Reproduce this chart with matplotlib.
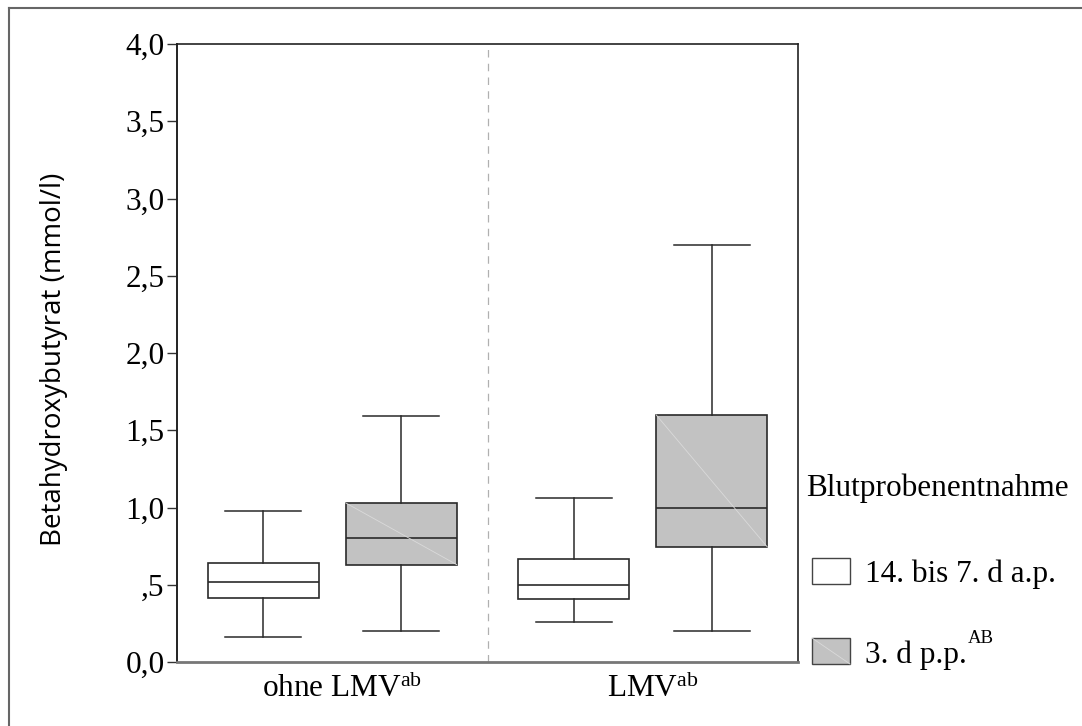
import matplotlib
matplotlib.use("Agg")
import matplotlib.pyplot as plt
from matplotlib.patches import Rectangle
from matplotlib.lines import Line2D
from matplotlib.transforms import ScaledTranslation

plt.rcParams['font.family'] = ['Liberation Serif', 'DejaVu Serif']
plt.rcParams['mathtext.fontset'] = 'custom'
plt.rcParams['mathtext.rm'] = 'Liberation Serif'
plt.rcParams['mathtext.it'] = 'Liberation Serif:italic'
plt.rcParams['mathtext.bf'] = 'Liberation Serif:bold'

# ---- data ----
groups = ["ohne LMV$^{\\mathrm{ab}}$", "LMV$^{\\mathrm{ab}}$"]
series_labels = ["14. bis 7. d a.p.", "3. d p.p."]
series_sup = ["", "AB"]
series_colors = ["#ffffff", "#c2c2c2"]
legend_title = "Blutprobenentnahme"
ylabel = "Betahydroxybutyrat (mmol/l)"

ap_whislo = [0.16, 0.26]
ap_q1 = [0.415, 0.405]
ap_med = [0.52, 0.50]
ap_q3 = [0.64, 0.665]
ap_whishi = [0.98, 1.06]

pp_whislo = [0.20, 0.20]
pp_q1 = [0.63, 0.745]
pp_med = [0.805, 1.00]
pp_q3 = [1.03, 1.60]
pp_whishi = [1.59, 2.70]

yticks = [0.0, 0.5, 1.0, 1.5, 2.0, 2.5, 3.0, 3.5, 4.0]
ytick_labels = ["0,0", ",5", "1,0", "1,5", "2,0", "2,5", "3,0", "3,5", "4,0"]

# ---- figure ----
W, H = 1082, 726
fig = plt.figure(figsize=(W / 100, H / 100), dpi=100)
ax = fig.add_axes([177 / W, 1 - 662 / H, (798 - 177) / W, (662 - 44) / H])

offset = 0.222
bw = 0.358
capw = 0.245
lc = "#2a2a2a"

series_stats = [
    (ap_whislo, ap_q1, ap_med, ap_q3, ap_whishi),
    (pp_whislo, pp_q1, pp_med, pp_q3, pp_whishi),
]
for si, (lo, q1, med, q3, hi) in enumerate(series_stats):
    stats = []
    for g in range(len(groups)):
        stats.append(dict(whislo=lo[g], q1=q1[g], med=med[g], q3=q3[g],
                          whishi=hi[g], fliers=[]))
    pos = [g + (-offset if si == 0 else offset) for g in range(len(groups))]
    ax.bxp(stats, positions=pos, widths=bw, capwidths=capw, patch_artist=True,
           showfliers=False, manage_ticks=False,
           boxprops=dict(facecolor=series_colors[si], edgecolor=lc, linewidth=1.2),
           medianprops=dict(color=lc, linewidth=1.2),
           whiskerprops=dict(color=lc, linewidth=1.1),
           capprops=dict(color=lc, linewidth=1.1))
    if si == 1:
        for g in range(len(groups)):
            ax.plot([pos[g] - bw / 2, pos[g] + bw / 2], [q3[g], q1[g]],
                    color="#dadada", lw=0.6, zorder=3)

ax.axvline(0.5, color="#b0b0b0", lw=0.9, ls=(0, (6, 5)), zorder=0)

ax.set_xlim(-0.5, 1.5)
ax.set_ylim(0, 4.0)
ax.set_yticks(yticks)
ax.set_yticklabels(ytick_labels, fontsize=22.5)
ax.set_xticks(range(len(groups)))
ax.set_xticklabels(groups, fontsize=22.5)
ax.tick_params(axis='x', length=0, pad=8)
ax.tick_params(axis='y', length=7, width=1.0, color="#333333", pad=2)

# centre the main text (superscript hangs to the right)
shift = ScaledTranslation(10 / 100, 0, fig.dpi_scale_trans)
for lab in ax.get_xticklabels():
    lab.set_transform(lab.get_transform() + shift)

for side in ['top', 'right']:
    ax.spines[side].set_color("#222222")
    ax.spines[side].set_linewidth(1.2)
ax.spines['left'].set_color("#222222")
ax.spines['left'].set_linewidth(1.4)
ax.spines['bottom'].set_color("#777777")
ax.spines['bottom'].set_linewidth(2.0)

ax.set_ylabel(ylabel, fontsize=20, family=['Open Sans', 'DejaVu Sans'])
ax.yaxis.set_label_coords((68 - 177) / (798 - 177), 0.49)

# ---- legend (manual) ----
fig.text(806 / W, 1 - 496 / H, legend_title, fontsize=22.5, ha='left', va='baseline')
leg_rows = [(558, 584, 582), (638, 664, 663)]
fig.canvas.draw()
renderer = fig.canvas.get_renderer()
for i, (top, bot, base) in enumerate(leg_rows):
    fig.add_artist(Rectangle((812 / W, 1 - bot / H), 38 / W, (bot - top) / H,
                             transform=fig.transFigure, facecolor=series_colors[i],
                             edgecolor="#444444", lw=1.0))
    if i == 1:
        fig.add_artist(Line2D([812 / W, 850 / W], [1 - top / H, 1 - bot / H],
                              transform=fig.transFigure, color="#dadada", lw=0.6))
    t = fig.text(865 / W, 1 - base / H, series_labels[i], fontsize=22.5,
                 ha='left', va='baseline')
    if series_sup[i]:
        bb = t.get_window_extent(renderer)
        fig.text((bb.x1 + 1) / W, 1 - (base - 20) / H, series_sup[i], fontsize=13.5,
                 ha='left', va='baseline')

# ---- outer frame (top & left visible) ----
fig.add_artist(Line2D([9 / W, 1.0], [1 - 8 / H, 1 - 8 / H], transform=fig.transFigure,
                      color="#666666", lw=1.5))
fig.add_artist(Line2D([9 / W, 9 / W], [0.0, 1 - 8 / H], transform=fig.transFigure,
                      color="#666666", lw=1.5))

fig.savefig("out.png", dpi=100)
